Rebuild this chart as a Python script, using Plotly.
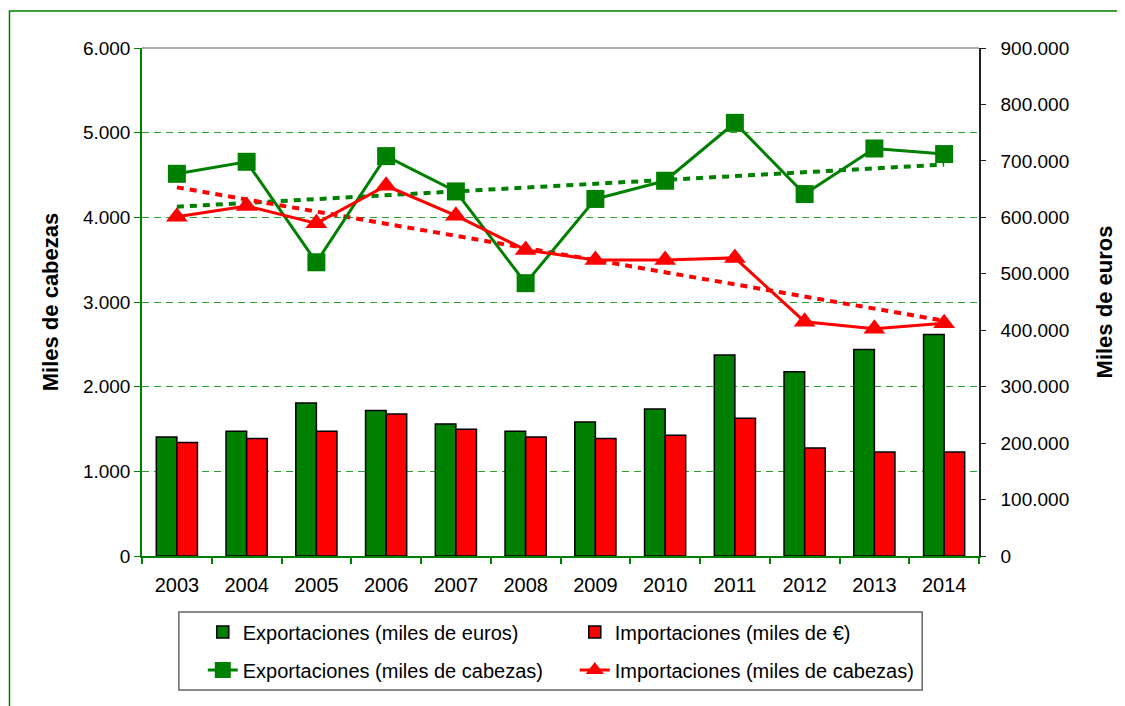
import numpy as np
import plotly.graph_objects as go

years = ["2003", "2004", "2005", "2006", "2007", "2008", "2009", "2010", "2011", "2012", "2013", "2014"]
exp_heads = [4514, 4656, 3469, 4723, 4306, 3222, 4217, 4432, 5116, 4275, 4813, 4747]
imp_heads = [4008, 4134, 3929, 4373, 4020, 3615, 3497, 3497, 3521, 2767, 2684, 2750]
exp_eur = [211000, 221000, 271000, 257600, 234000, 221000, 237500, 260500, 356000, 326600, 366000, 392600]
imp_eur = [201000, 208100, 221000, 251700, 224600, 211000, 208100, 214000, 244000, 191500, 184400, 184400]

GREEN = "#008000"
RED = "#FF0000"
FONT = "Liberation Sans, Arial, sans-serif"

# Linear trendlines (as Excel's linear trendline of the head series)
idx = np.arange(len(years))
exp_fit = np.polyval(np.polyfit(idx, exp_heads, 1), idx)
imp_fit = np.polyval(np.polyfit(idx, imp_heads, 1), idx)

fig = go.Figure()

fig.add_trace(go.Bar(x=years, y=exp_eur, name="Exportaciones (miles de euros)",
                     marker=dict(color=GREEN, line=dict(color="black", width=1.5)),
                     yaxis="y", legend="legend"))
fig.add_trace(go.Bar(x=years, y=imp_eur, name="Importaciones (miles de €)",
                     marker=dict(color=RED, line=dict(color="black", width=1.5)),
                     yaxis="y", legend="legend"))

fig.add_trace(go.Scatter(x=years, y=exp_fit, mode="lines", showlegend=False,
                         line=dict(color=GREEN, width=4, dash="7px,6px"), yaxis="y2"))
fig.add_trace(go.Scatter(x=years, y=imp_fit, mode="lines", showlegend=False,
                         line=dict(color=RED, width=4, dash="7px,6px"), yaxis="y2"))

fig.add_trace(go.Scatter(x=years, y=exp_heads, mode="lines+markers",
                         name="Exportaciones (miles de cabezas)",
                         line=dict(color=GREEN, width=3),
                         marker=dict(symbol="square", size=18, color=GREEN),
                         yaxis="y2", legend="legend2"))
fig.add_trace(go.Scatter(x=years, y=imp_heads, mode="lines+markers",
                         name="Importaciones (miles de cabezas)",
                         line=dict(color=RED, width=3),
                         marker=dict(symbol="triangle-up", size=19, color=RED),
                         yaxis="y2", legend="legend2"))

# page has an 8px body margin; compensate so the plot lands where it should
OFF = 8
W, H = 1125 - OFF, 706 - OFF
plot_left, plot_right, plot_top, plot_bottom = 142, 982, 48, 556  # page pixels
ml = plot_left - OFF
mt = plot_top - OFF
mr = (W + OFF) - plot_right
mb = (H + OFF) - plot_bottom
pw, ph = W - ml - mr, H - mt - mb


def px2paper_x(px):
    return (px - plot_left) / pw


def px2paper_y(py):
    return (plot_bottom - py) / ph


fig.update_layout(
    width=W, height=H, autosize=False,
    margin=dict(l=ml, r=mr, t=mt, b=mb, pad=0),
    paper_bgcolor="white", plot_bgcolor="white",
    separators=",.",
    font=dict(family=FONT, size=19, color="black"),
    barmode="group", bargap=0.41, bargroupgap=0,
    xaxis=dict(type="category", range=[-0.5, len(years) - 0.5], showline=True,
               linecolor=GREEN, linewidth=1.5,
               ticks="outside", tickson="boundaries", ticklen=6, tickcolor=GREEN,
               tickwidth=1.5, showgrid=False, ticklabelstandoff=10,
               tickfont=dict(size=20)),
    yaxis=dict(side="right", range=[0, 900000], dtick=100000, tickformat=",d",
               showline=True, linecolor="#222222", linewidth=1.5, ticks="outside",
               ticklen=5, tickcolor="#222222", showgrid=False, zeroline=False,
               ticklabelstandoff=11,
               title=dict(text="<b>Miles de euros</b>", font=dict(size=22), standoff=28)),
    yaxis2=dict(side="left", overlaying="y", range=[0, 6000], dtick=1000, tickformat=",d",
                showline=True, linecolor=GREEN, linewidth=1.5, ticks="outside",
                ticklen=6, tickcolor=GREEN, showgrid=True, gridcolor="#2e9e2e",
                griddash="7px,5px", gridwidth=1, zeroline=False,
                title=dict(text="<b>Miles de cabezas</b>", font=dict(size=22), standoff=18)),
    legend=dict(orientation="h", x=px2paper_x(203), xanchor="left",
                y=px2paper_y(632), yanchor="middle", bgcolor="rgba(0,0,0,0)",
                borderwidth=0, entrywidth=327, font=dict(size=20)),
    legend2=dict(orientation="h", x=px2paper_x(203), xanchor="left",
                 y=px2paper_y(670), yanchor="middle", bgcolor="rgba(0,0,0,0)",
                 borderwidth=0, entrywidth=327, font=dict(size=20)),
    shapes=[
        # top border of the plot area
        dict(type="line", xref="paper", yref="paper", x0=0, x1=1, y0=1, y1=1,
             line=dict(color="#8c8c8c", width=1.5), layer="above"),
        # legend box
        dict(type="rect", xref="paper", yref="paper",
             x0=px2paper_x(179), x1=px2paper_x(925), y0=px2paper_y(690), y1=px2paper_y(612),
             line=dict(color="#666666", width=1.5), layer="below"),
        # outer chart border
        dict(type="rect", xref="paper", yref="paper",
             x0=px2paper_x(9), x1=px2paper_x(1140), y0=px2paper_y(720), y1=px2paper_y(11),
             line=dict(color=GREEN, width=1.5), layer="below"),
    ],
)

fig.write_html("out.html")
